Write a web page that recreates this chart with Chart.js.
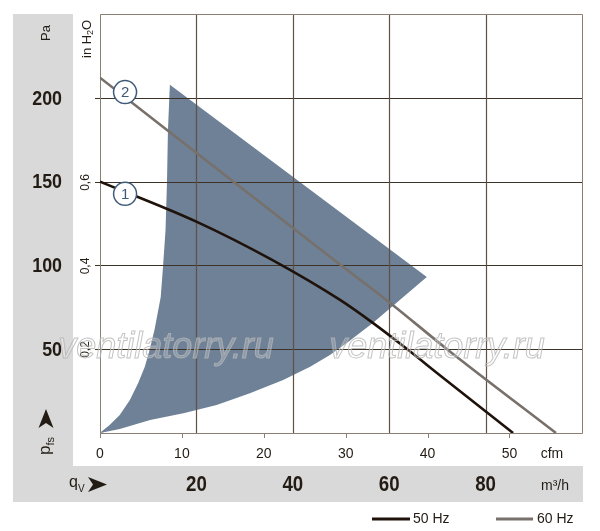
<!DOCTYPE html>
<html lang="en">
<head>
<meta charset="UTF-8">
<title>Fan curve</title>
<script src="https://cdn.jsdelivr.net/npm/chart.js"></script>
<style>
  body { margin: 0; background: #fff; }
  #fanChart { display: block; }
</style>
</head>
<body>
<canvas id="fanChart" width="600" height="531"></canvas>
<script>
// axis ticks (flow in m3/h, pressure in Pa)
const flowTicks = [20, 40, 60, 80];
const cfmTicks = [0, 10, 20, 30, 40, 50];
const paTicks = [50, 100, 150, 200];
const inchTicks = [0.2, 0.4, 0.6];
const inchLabels = ['0,2', '0,4', '0,6'];

// curve 1 - 50 Hz
const flow50 = [0, 20.1, 35.7, 49.8, 56.6, 63.7, 70.5, 85.7];
const pres50 = [150, 126, 103.3, 79.4, 65.7, 50.1, 34.5, 0];
// curve 2 - 60 Hz
const flow60 = [0, 37.3, 48.3, 60.2, 72, 94.6];
const pres60 = [212, 128.4, 103.8, 77.6, 50, 0];

// shaded operating zone outline
const zoneFlow = [0, 0.27, 2.0, 4.1, 6.2, 7.9, 9.3, 10.3, 11.3, 12.6, 13.1, 13.6, 13.9, 14.1, 14.5,
                  67.8, 62.2, 56.6, 51.2, 47.7, 43.6, 38.0, 31.1, 24.2, 17.3, 10.4, 4.1, 0];
const zonePres = [0, 0.8, 4.8, 10.7, 19.7, 29.7, 39.6, 49.6, 61.5, 81.2, 100.3, 121.2, 149.9, 180.9, 207.8,
                  93.1, 79.4, 65.7, 53.7, 46.6, 39.6, 31.6, 23.7, 16.7, 11.8, 7.8, 2.4, 0];

// numbered curve markers
const markerFlow = [5.2, 5.2];
const markerPres = [142.7, 203.4];
const markerText = ['1', '2'];

const toPoints = (xs, ys) => xs.map((x, i) => ({ x: x, y: ys[i] }));

const TEXT = '#231c14';
const MARK = '#3e5a78';

function txt(ctx, s, x, y, font, align, color, sx, rot) {
    ctx.save();
    ctx.translate(x, y);
    if (rot) ctx.rotate(rot);
    ctx.scale(sx || 1, 1);
    ctx.font = font;
    ctx.textAlign = align;
    ctx.textBaseline = 'middle';
    ctx.fillStyle = color;
    ctx.fillText(s, 0, 0);
    ctx.restore();
}

function arrow(ctx, pts) {
    ctx.beginPath();
    ctx.moveTo(pts[0][0], pts[0][1]);
    for (let i = 1; i < pts.length; i++) ctx.lineTo(pts[i][0], pts[i][1]);
    ctx.closePath();
    ctx.fillStyle = TEXT;
    ctx.fill();
}

const decor = {
    id: 'decor',
    beforeDraw(chart) {
        const ctx = chart.ctx;
        ctx.save();
        ctx.fillStyle = '#d9d9d9';
        ctx.fillRect(13, 14, 60, 488);
        ctx.fillRect(13, 466, 570, 36);
        ctx.restore();
    },
    afterDatasetDraw(chart, args) {
        if (args.index !== 0) return;
        const ctx = chart.ctx;
        const { left, right, top, bottom } = chart.chartArea;
        const x = chart.scales.x, y = chart.scales.y, xc = chart.scales.xc;
        ctx.save();
        ctx.lineWidth = 1.2;
        // horizontal grid
        ctx.strokeStyle = '#3d3227';
        paTicks.forEach(v => {
            const py = Math.round(y.getPixelForValue(v)) + 0.5;
            ctx.beginPath(); ctx.moveTo(95, py); ctx.lineTo(right, py); ctx.stroke();
        });
        // vertical grid
        ctx.strokeStyle = '#5e5247';
        flowTicks.forEach(v => {
            const px = Math.round(x.getPixelForValue(v)) + 0.5;
            ctx.beginPath(); ctx.moveTo(px, top); ctx.lineTo(px, bottom); ctx.stroke();
        });
        // frame
        ctx.strokeStyle = '#8a7f72';
        ctx.lineWidth = 1;
        ctx.beginPath();
        ctx.moveTo(left + 0.5, bottom + 5);
        ctx.lineTo(left + 0.5, top + 0.5);
        ctx.lineTo(right + 0.5, top + 0.5);
        ctx.lineTo(right + 0.5, bottom + 0.5);
        ctx.lineTo(left, bottom + 0.5);
        ctx.stroke();
        // cfm ticks
        cfmTicks.forEach(v => {
            const px = Math.round(xc.getPixelForValue(v)) + 0.5;
            ctx.beginPath(); ctx.moveTo(px, bottom); ctx.lineTo(px, bottom + 5); ctx.stroke();
        });
        ctx.restore();
    },
    afterDraw(chart) {
        const ctx = chart.ctx;
        const x = chart.scales.x, y = chart.scales.y, xc = chart.scales.xc, yi = chart.scales.yi;
        const bold = 'bold 21px "Liberation Sans", Arial, sans-serif';
        const reg = (s) => s + 'px "Liberation Sans", Arial, sans-serif';

        // Pa axis
        txt(ctx, 'Pa', 46, 33, reg(13), 'center', TEXT, 1, -Math.PI / 2);
        paTicks.forEach(v => txt(ctx, String(v), 62, y.getPixelForValue(v) + 1, bold, 'right', TEXT, 0.85));

        // in H2O axis
        ctx.save();
        ctx.translate(87, 58);
        ctx.rotate(-Math.PI / 2);
        ctx.fillStyle = TEXT;
        ctx.textBaseline = 'middle';
        ctx.textAlign = 'left';
        ctx.font = reg(13);
        ctx.fillText('in H', 0, 0);
        let w = ctx.measureText('in H').width;
        ctx.font = reg(9);
        ctx.fillText('2', w, 4);
        w += ctx.measureText('2').width;
        ctx.font = reg(13);
        ctx.fillText('O', w, 0);
        ctx.restore();
        inchTicks.forEach((v, i) => txt(ctx, inchLabels[i], 86, yi.getPixelForValue(v), reg(12), 'center', TEXT, 1, -Math.PI / 2));

        // p_fs with arrow
        ctx.save();
        ctx.translate(50, 455);
        ctx.rotate(-Math.PI / 2);
        ctx.fillStyle = TEXT;
        ctx.textBaseline = 'alphabetic';
        ctx.textAlign = 'left';
        ctx.font = reg(17);
        ctx.fillText('p', 0, 0);
        const pw = ctx.measureText('p').width;
        ctx.font = reg(11);
        ctx.fillText('fs', pw, 4);
        ctx.restore();
        arrow(ctx, [[46, 409], [53.5, 428], [46, 423], [38.5, 428]]);

        // cfm axis
        cfmTicks.forEach(v => txt(ctx, String(v), xc.getPixelForValue(v), 454, reg(14), 'center', TEXT));
        txt(ctx, 'cfm', 552, 454, reg(14), 'center', TEXT);

        // m3/h axis
        flowTicks.forEach(v => txt(ctx, String(v), x.getPixelForValue(v), 485, 'bold 22px "Liberation Sans", Arial, sans-serif', 'center', TEXT, 0.85));
        txt(ctx, 'm³/h', 555, 486, reg(14), 'center', TEXT);
        ctx.save();
        ctx.fillStyle = TEXT;
        ctx.textBaseline = 'alphabetic';
        ctx.textAlign = 'left';
        ctx.font = reg(16);
        ctx.fillText('q', 69, 487);
        ctx.font = reg(10);
        ctx.fillText('V', 78, 492);
        ctx.restore();
        arrow(ctx, [[107, 484.5], [88, 477], [93, 484.5], [88, 492]]);

        // marker numbers
        const meta = chart.getDatasetMeta(3);
        meta.data.forEach((pt, i) => txt(ctx, markerText[i], pt.x, pt.y + 1, reg(15), 'center', MARK));

        // legend
        ctx.save();
        ctx.lineWidth = 3;
        ctx.strokeStyle = '#1e120a';
        ctx.beginPath(); ctx.moveTo(372, 519); ctx.lineTo(410, 519); ctx.stroke();
        ctx.strokeStyle = '#77706b';
        ctx.beginPath(); ctx.moveTo(496, 519); ctx.lineTo(533, 519); ctx.stroke();
        ctx.restore();
        txt(ctx, '50 Hz', 413, 519, reg(14), 'left', TEXT);
        txt(ctx, '60 Hz', 537, 519, reg(14), 'left', TEXT);

        // watermark
        ctx.save();
        ctx.font = 'italic 36px "Liberation Sans", Arial, sans-serif';
        ctx.textAlign = 'center';
        ctx.textBaseline = 'alphabetic';
        ctx.lineWidth = 1;
        ctx.fillStyle = 'rgba(255,255,255,0.22)';
        ctx.strokeStyle = 'rgba(180,180,180,0.8)';
        [[166, 358], [437, 358]].forEach(p => {
            ctx.fillText('ventilatorry.ru', p[0], p[1]);
            ctx.strokeText('ventilatorry.ru', p[0], p[1]);
        });
        ctx.restore();
    }
};

const ctx = document.getElementById('fanChart').getContext('2d');
const fanChart = new Chart(ctx, {
    type: 'line',
    data: {
        datasets: [
            {
                label: 'zone',
                data: toPoints(zoneFlow, zonePres),
                backgroundColor: '#6e8196',
                borderWidth: 0,
                pointRadius: 0,
                fill: 'shape',
                order: 3
            },
            {
                label: '50 Hz',
                data: toPoints(flow50, pres50),
                borderColor: '#1e120a',
                borderWidth: 2.6,
                pointRadius: 0,
                fill: false,
                cubicInterpolationMode: 'monotone',
                order: 2
            },
            {
                label: '60 Hz',
                data: toPoints(flow60, pres60),
                borderColor: '#77706b',
                borderWidth: 2.6,
                pointRadius: 0,
                fill: false,
                cubicInterpolationMode: 'monotone',
                order: 1
            },
            {
                label: 'markers',
                data: toPoints(markerFlow, markerPres),
                showLine: false,
                pointRadius: 11.5,
                pointBackgroundColor: '#ffffff',
                pointBorderColor: MARK,
                pointBorderWidth: 1.5,
                clip: false,
                order: 0
            }
        ]
    },
    options: {
        responsive: false,
        animation: false,
        layout: { padding: { left: 100, right: 18, top: 14, bottom: 98 } },
        plugins: { legend: { display: false }, tooltip: { enabled: false } },
        scales: {
            x: { type: 'linear', min: 0, max: 100, display: false },
            y: { type: 'linear', min: 0, max: 250, display: false },
            xc: { type: 'linear', axis: 'x', min: 0, max: 100 / 1.699, display: false },
            yi: { type: 'linear', axis: 'y', min: 0, max: 250 / 249.09, display: false }
        }
    },
    plugins: [decor]
});
</script>
</body>
</html>
